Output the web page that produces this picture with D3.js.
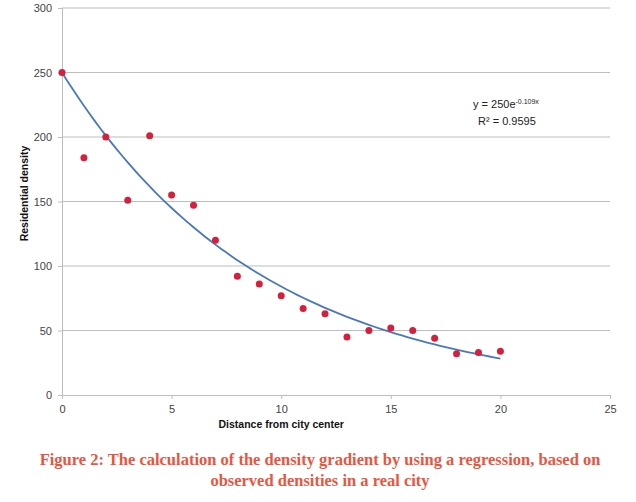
<!DOCTYPE html>
<html>
<head>
<meta charset="utf-8">
<script src="https://cdn.jsdelivr.net/npm/d3@7"></script>
<style>
  body { margin: 0; background: #fff; }
  svg { display: block; }
  .tick text { font-family: "Liberation Sans", Arial, sans-serif; font-size: 11px; fill: #444; }
</style>
</head>
<body>
<div id="chart"></div>
<script>
// distance from city center vs observed residential density
const distances = [0, 1, 2, 3, 4, 5, 6, 7, 8, 9, 10, 11, 12, 13, 14, 15, 16, 17, 18, 19, 20];
const densities = [250, 184, 200, 151, 201, 155, 147, 120, 92, 86, 77, 67, 63, 45, 50, 52, 50, 44, 32, 33, 34];

const xTicks = [0, 5, 10, 15, 20, 25];
const yTicks = [0, 50, 100, 150, 200, 250, 300];

// trendline coefficients as printed on the chart
const trendA = 250;
const trendB = -0.109;
const rSquared = '0.9595';

const width = 636, height = 502;
const margin = { top: 8, right: 26, bottom: 107, left: 62 };

const svg = d3.select('#chart')
  .append('svg')
  .attr('width', width)
  .attr('height', height);

const x = d3.scaleLinear()
  .domain([0, 25])
  .range([margin.left, width - margin.right]);

const y = d3.scaleLinear()
  .domain([0, 300])
  .range([height - margin.bottom, margin.top]);

// horizontal gridlines
svg.append('g')
  .selectAll('line')
  .data(yTicks.filter(d => d > 0))
  .join('line')
  .attr('x1', x(0))
  .attr('x2', x(25))
  .attr('y1', d => y(d))
  .attr('y2', d => y(d))
  .attr('stroke', '#bdbdbd')
  .attr('stroke-width', 1);

// y axis
const yAxis = svg.append('g')
  .attr('transform', `translate(${x(0)},0)`)
  .call(d3.axisLeft(y).tickValues(yTicks).tickSize(4).tickPadding(6));
yAxis.select('.domain').attr('stroke', '#bdbdbd');
yAxis.selectAll('.tick line').attr('stroke', '#bdbdbd');

// x axis
const xAxis = svg.append('g')
  .attr('transform', `translate(0,${y(0)})`)
  .call(d3.axisBottom(x).tickValues(xTicks).tickSize(4).tickPadding(6));
xAxis.select('.domain').attr('stroke', '#bdbdbd');
xAxis.selectAll('.tick line').attr('stroke', '#bdbdbd');

// exponential trendline over the observed range
const trend = d3.line()
  .x(d => x(d))
  .y(d => y(trendA * Math.exp(trendB * d)));

svg.append('path')
  .datum(d3.range(0, 20.01, 0.25))
  .attr('fill', 'none')
  .attr('stroke', '#4a79b9')
  .attr('stroke-width', 1.8)
  .attr('d', trend);

// observed points
svg.append('g')
  .selectAll('circle')
  .data(distances)
  .join('circle')
  .attr('cx', d => x(d))
  .attr('cy', (d, i) => y(densities[i]))
  .attr('r', 3.5)
  .attr('fill', '#d61f3c');

// equation label
const eq = svg.append('text')
  .attr('x', 473)
  .attr('y', 108)
  .attr('font-family', '"Liberation Sans", Arial, sans-serif')
  .attr('font-size', 11)
  .attr('fill', '#222');
eq.append('tspan').text(`y = ${trendA}e`);
eq.append('tspan').attr('font-size', 7).attr('dy', -4).text(`${trendB}x`);

svg.append('text')
  .attr('x', 478)
  .attr('y', 125)
  .attr('font-family', '"Liberation Sans", Arial, sans-serif')
  .attr('font-size', 11)
  .attr('fill', '#222')
  .text(`R² = ${rSquared}`);

// axis titles
svg.append('text')
  .attr('x', x(10))
  .attr('y', 428)
  .attr('text-anchor', 'middle')
  .attr('font-family', '"Liberation Sans", Arial, sans-serif')
  .attr('font-weight', 'bold')
  .attr('font-size', 10.5)
  .attr('fill', '#111')
  .text('Distance from city center');

svg.append('text')
  .attr('transform', `translate(28,${y(150) - 8}) rotate(-90)`)
  .attr('text-anchor', 'middle')
  .attr('font-family', '"Liberation Sans", Arial, sans-serif')
  .attr('font-weight', 'bold')
  .attr('font-size', 10.5)
  .attr('fill', '#111')
  .text('Residential density');

// caption
const caption = [
  'Figure 2: The calculation of the density gradient by using a regression, based on',
  'observed densities in a real city'
];
svg.append('g')
  .selectAll('text')
  .data(caption)
  .join('text')
  .attr('x', 320)
  .attr('y', (d, i) => 465 + i * 21)
  .attr('text-anchor', 'middle')
  .attr('font-family', '"Liberation Serif", "Times New Roman", serif')
  .attr('font-weight', 'bold')
  .attr('font-size', 16.5)
  .attr('fill', '#e8563f')
  .text(d => d);
</script>
</body>
</html>
